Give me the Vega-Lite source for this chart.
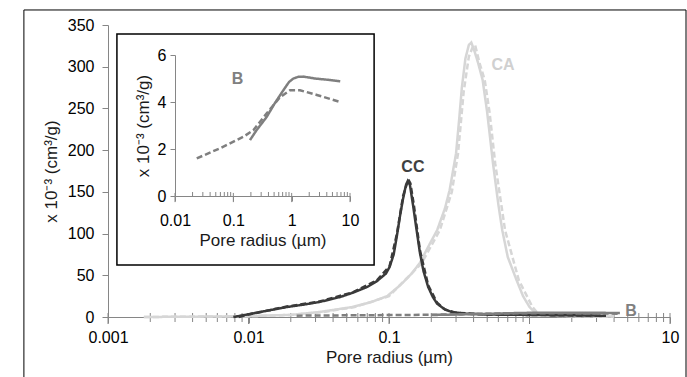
{
  "$schema": "https://vega.github.io/schema/vega-lite/v6.json",
  "width": 562,
  "height": 292,
  "autosize": "none",
  "padding": {"left": 108, "top": 25, "right": 17, "bottom": 60},
  "background": "white",
  "config": {
    "view": {"stroke": null},
    "font": "Liberation Sans",
    "axis": {
      "grid": false,
      "domainColor": "#868686",
      "tickColor": "#868686",
      "labelColor": "#000000",
      "titleColor": "#1a1a1a",
      "labelFontSize": 16,
      "titleFontSize": 17,
      "titleFontWeight": "normal",
      "labelFlush": false,
      "labelOverlap": false
    }
  },
  "datasets": {
    "mainTicks": [
      {"t": 0.001, "kind": "major"}, {"t": 0.002, "kind": "minor"}, {"t": 0.003, "kind": "minor"}, {"t": 0.004, "kind": "minor"}, {"t": 0.005, "kind": "minor"}, {"t": 0.006, "kind": "minor"}, {"t": 0.007, "kind": "minor"}, {"t": 0.008, "kind": "minor"}, {"t": 0.009, "kind": "minor"},
      {"t": 0.01, "kind": "major"}, {"t": 0.02, "kind": "minor"}, {"t": 0.03, "kind": "minor"}, {"t": 0.04, "kind": "minor"}, {"t": 0.05, "kind": "minor"}, {"t": 0.06, "kind": "minor"}, {"t": 0.07, "kind": "minor"}, {"t": 0.08, "kind": "minor"}, {"t": 0.09, "kind": "minor"},
      {"t": 0.1, "kind": "major"}, {"t": 0.2, "kind": "minor"}, {"t": 0.3, "kind": "minor"}, {"t": 0.4, "kind": "minor"}, {"t": 0.5, "kind": "minor"}, {"t": 0.6, "kind": "minor"}, {"t": 0.7, "kind": "minor"}, {"t": 0.8, "kind": "minor"}, {"t": 0.9, "kind": "minor"},
      {"t": 1, "kind": "major"}, {"t": 2, "kind": "minor"}, {"t": 3, "kind": "minor"}, {"t": 4, "kind": "minor"}, {"t": 5, "kind": "minor"}, {"t": 6, "kind": "minor"}, {"t": 7, "kind": "minor"}, {"t": 8, "kind": "minor"}, {"t": 9, "kind": "minor"},
      {"t": 10, "kind": "major"}
    ],
    "insetTicks": [
      {"t": 0.01, "kind": "major"}, {"t": 0.02, "kind": "minor"}, {"t": 0.03, "kind": "minor"}, {"t": 0.04, "kind": "minor"}, {"t": 0.05, "kind": "minor"}, {"t": 0.06, "kind": "minor"}, {"t": 0.07, "kind": "minor"}, {"t": 0.08, "kind": "minor"}, {"t": 0.09, "kind": "minor"},
      {"t": 0.1, "kind": "major"}, {"t": 0.2, "kind": "minor"}, {"t": 0.3, "kind": "minor"}, {"t": 0.4, "kind": "minor"}, {"t": 0.5, "kind": "minor"}, {"t": 0.6, "kind": "minor"}, {"t": 0.7, "kind": "minor"}, {"t": 0.8, "kind": "minor"}, {"t": 0.9, "kind": "minor"},
      {"t": 1, "kind": "major"}, {"t": 2, "kind": "minor"}, {"t": 3, "kind": "minor"}, {"t": 4, "kind": "minor"}, {"t": 5, "kind": "minor"}, {"t": 6, "kind": "minor"}, {"t": 7, "kind": "minor"}, {"t": 8, "kind": "minor"}, {"t": 9, "kind": "minor"},
      {"t": 10, "kind": "major"}
    ],
    "curves": [
      {"g": "CC", "style": "solid", "r": 0.0078, "v": 0},
      {"g": "CC", "style": "solid", "r": 0.0098, "v": 3},
      {"g": "CC", "style": "solid", "r": 0.013, "v": 7},
      {"g": "CC", "style": "solid", "r": 0.0188, "v": 12},
      {"g": "CC", "style": "solid", "r": 0.025, "v": 15},
      {"g": "CC", "style": "solid", "r": 0.032, "v": 18},
      {"g": "CC", "style": "solid", "r": 0.045, "v": 24},
      {"g": "CC", "style": "solid", "r": 0.055, "v": 29},
      {"g": "CC", "style": "solid", "r": 0.07, "v": 36},
      {"g": "CC", "style": "solid", "r": 0.082, "v": 43},
      {"g": "CC", "style": "solid", "r": 0.095, "v": 52},
      {"g": "CC", "style": "solid", "r": 0.101, "v": 60},
      {"g": "CC", "style": "solid", "r": 0.108, "v": 75},
      {"g": "CC", "style": "solid", "r": 0.114, "v": 98},
      {"g": "CC", "style": "solid", "r": 0.12, "v": 122},
      {"g": "CC", "style": "solid", "r": 0.126, "v": 142},
      {"g": "CC", "style": "solid", "r": 0.132, "v": 158},
      {"g": "CC", "style": "solid", "r": 0.136, "v": 163},
      {"g": "CC", "style": "solid", "r": 0.141, "v": 158},
      {"g": "CC", "style": "solid", "r": 0.148, "v": 135},
      {"g": "CC", "style": "solid", "r": 0.156, "v": 108},
      {"g": "CC", "style": "solid", "r": 0.166, "v": 77},
      {"g": "CC", "style": "solid", "r": 0.176, "v": 55},
      {"g": "CC", "style": "solid", "r": 0.19, "v": 36},
      {"g": "CC", "style": "solid", "r": 0.205, "v": 24},
      {"g": "CC", "style": "solid", "r": 0.22, "v": 16},
      {"g": "CC", "style": "solid", "r": 0.25, "v": 9},
      {"g": "CC", "style": "solid", "r": 0.28, "v": 6},
      {"g": "CC", "style": "solid", "r": 0.35, "v": 4},
      {"g": "CC", "style": "solid", "r": 0.5, "v": 3},
      {"g": "CC", "style": "solid", "r": 1, "v": 2.5},
      {"g": "CC", "style": "solid", "r": 2, "v": 2},
      {"g": "CC", "style": "solid", "r": 3.5, "v": 1.5},
      {"g": "CC", "style": "dashed", "r": 0.0085, "v": 0},
      {"g": "CC", "style": "dashed", "r": 0.01, "v": 3},
      {"g": "CC", "style": "dashed", "r": 0.0188, "v": 12.5},
      {"g": "CC", "style": "dashed", "r": 0.032, "v": 18.5},
      {"g": "CC", "style": "dashed", "r": 0.055, "v": 29.5},
      {"g": "CC", "style": "dashed", "r": 0.082, "v": 44},
      {"g": "CC", "style": "dashed", "r": 0.101, "v": 61},
      {"g": "CC", "style": "dashed", "r": 0.114, "v": 100},
      {"g": "CC", "style": "dashed", "r": 0.126, "v": 145},
      {"g": "CC", "style": "dashed", "r": 0.137, "v": 165},
      {"g": "CC", "style": "dashed", "r": 0.142, "v": 160},
      {"g": "CC", "style": "dashed", "r": 0.15, "v": 135},
      {"g": "CC", "style": "dashed", "r": 0.166, "v": 80},
      {"g": "CC", "style": "dashed", "r": 0.19, "v": 38},
      {"g": "CC", "style": "dashed", "r": 0.22, "v": 17},
      {"g": "CC", "style": "dashed", "r": 0.25, "v": 9},
      {"g": "CC", "style": "dashed", "r": 0.3, "v": 5},
      {"g": "CC", "style": "dashed", "r": 0.5, "v": 3},
      {"g": "CC", "style": "dashed", "r": 1, "v": 2.5},
      {"g": "CC", "style": "dashed", "r": 3.5, "v": 1.5},
      {"g": "CA", "style": "solid", "r": 0.0018, "v": 0},
      {"g": "CA", "style": "solid", "r": 0.005, "v": 0.5},
      {"g": "CA", "style": "solid", "r": 0.01, "v": 1},
      {"g": "CA", "style": "solid", "r": 0.02, "v": 2.5},
      {"g": "CA", "style": "solid", "r": 0.032, "v": 6},
      {"g": "CA", "style": "solid", "r": 0.055, "v": 12},
      {"g": "CA", "style": "solid", "r": 0.075, "v": 18},
      {"g": "CA", "style": "solid", "r": 0.097, "v": 25},
      {"g": "CA", "style": "solid", "r": 0.12, "v": 38},
      {"g": "CA", "style": "solid", "r": 0.145, "v": 52},
      {"g": "CA", "style": "solid", "r": 0.166, "v": 65},
      {"g": "CA", "style": "solid", "r": 0.19, "v": 84},
      {"g": "CA", "style": "solid", "r": 0.22, "v": 104},
      {"g": "CA", "style": "solid", "r": 0.25, "v": 130},
      {"g": "CA", "style": "solid", "r": 0.27, "v": 152},
      {"g": "CA", "style": "solid", "r": 0.3, "v": 196},
      {"g": "CA", "style": "solid", "r": 0.317, "v": 240},
      {"g": "CA", "style": "solid", "r": 0.33, "v": 275},
      {"g": "CA", "style": "solid", "r": 0.35, "v": 310},
      {"g": "CA", "style": "solid", "r": 0.37, "v": 326},
      {"g": "CA", "style": "solid", "r": 0.385, "v": 329},
      {"g": "CA", "style": "solid", "r": 0.4, "v": 322},
      {"g": "CA", "style": "solid", "r": 0.43, "v": 305},
      {"g": "CA", "style": "solid", "r": 0.464, "v": 284},
      {"g": "CA", "style": "solid", "r": 0.5, "v": 245},
      {"g": "CA", "style": "solid", "r": 0.55, "v": 184},
      {"g": "CA", "style": "solid", "r": 0.6, "v": 135},
      {"g": "CA", "style": "solid", "r": 0.64, "v": 104},
      {"g": "CA", "style": "solid", "r": 0.7, "v": 72},
      {"g": "CA", "style": "solid", "r": 0.81, "v": 44},
      {"g": "CA", "style": "solid", "r": 0.9, "v": 25},
      {"g": "CA", "style": "solid", "r": 1.0, "v": 12},
      {"g": "CA", "style": "solid", "r": 1.1, "v": 5},
      {"g": "CA", "style": "solid", "r": 1.3, "v": 2},
      {"g": "CA", "style": "solid", "r": 2, "v": 1},
      {"g": "CA", "style": "solid", "r": 4, "v": 0.5},
      {"g": "CA", "style": "dashed", "r": 0.0018, "v": 0},
      {"g": "CA", "style": "dashed", "r": 0.01, "v": 1},
      {"g": "CA", "style": "dashed", "r": 0.02, "v": 2.5},
      {"g": "CA", "style": "dashed", "r": 0.034, "v": 6},
      {"g": "CA", "style": "dashed", "r": 0.057, "v": 12},
      {"g": "CA", "style": "dashed", "r": 0.1, "v": 25},
      {"g": "CA", "style": "dashed", "r": 0.17, "v": 64},
      {"g": "CA", "style": "dashed", "r": 0.23, "v": 104},
      {"g": "CA", "style": "dashed", "r": 0.28, "v": 150},
      {"g": "CA", "style": "dashed", "r": 0.31, "v": 196},
      {"g": "CA", "style": "dashed", "r": 0.34, "v": 270},
      {"g": "CA", "style": "dashed", "r": 0.37, "v": 312},
      {"g": "CA", "style": "dashed", "r": 0.395, "v": 324},
      {"g": "CA", "style": "dashed", "r": 0.41, "v": 326},
      {"g": "CA", "style": "dashed", "r": 0.44, "v": 305},
      {"g": "CA", "style": "dashed", "r": 0.48, "v": 284},
      {"g": "CA", "style": "dashed", "r": 0.52, "v": 245},
      {"g": "CA", "style": "dashed", "r": 0.57, "v": 184},
      {"g": "CA", "style": "dashed", "r": 0.67, "v": 104},
      {"g": "CA", "style": "dashed", "r": 0.84, "v": 44},
      {"g": "CA", "style": "dashed", "r": 1.05, "v": 12},
      {"g": "CA", "style": "dashed", "r": 1.15, "v": 4},
      {"g": "CA", "style": "dashed", "r": 1.4, "v": 1.5},
      {"g": "CA", "style": "dashed", "r": 2, "v": 1},
      {"g": "CA", "style": "dashed", "r": 4, "v": 0.5},
      {"g": "B", "style": "dashed", "r": 0.022, "v": 1.6},
      {"g": "B", "style": "dashed", "r": 0.05, "v": 2.0},
      {"g": "B", "style": "dashed", "r": 0.1, "v": 2.3},
      {"g": "B", "style": "dashed", "r": 0.2, "v": 2.7},
      {"g": "B", "style": "dashed", "r": 0.4, "v": 3.6},
      {"g": "B", "style": "dashed", "r": 0.8, "v": 4.4},
      {"g": "B", "style": "dashed", "r": 1.3, "v": 4.5},
      {"g": "B", "style": "dashed", "r": 2.5, "v": 4.3},
      {"g": "B", "style": "dashed", "r": 4.4, "v": 4.0},
      {"g": "B", "style": "solid", "r": 0.2, "v": 2.4},
      {"g": "B", "style": "solid", "r": 0.4, "v": 3.4},
      {"g": "B", "style": "solid", "r": 0.7, "v": 4.5},
      {"g": "B", "style": "solid", "r": 1.0, "v": 5.0},
      {"g": "B", "style": "solid", "r": 1.5, "v": 5.1},
      {"g": "B", "style": "solid", "r": 4.4, "v": 4.9}
    ],
    "insetB": [
      {"style": "solid", "r": 0.193, "v": 2.38},
      {"style": "solid", "r": 0.25, "v": 2.8},
      {"style": "solid", "r": 0.374, "v": 3.37},
      {"style": "solid", "r": 0.5, "v": 3.9},
      {"style": "solid", "r": 0.72, "v": 4.5},
      {"style": "solid", "r": 0.9, "v": 4.85},
      {"style": "solid", "r": 1.07, "v": 5.0},
      {"style": "solid", "r": 1.3, "v": 5.07},
      {"style": "solid", "r": 1.59, "v": 5.08},
      {"style": "solid", "r": 2.5, "v": 5.0},
      {"style": "solid", "r": 4, "v": 4.95},
      {"style": "solid", "r": 6.8, "v": 4.88},
      {"style": "dashed", "r": 0.0236, "v": 1.6},
      {"style": "dashed", "r": 0.059, "v": 2.03},
      {"style": "dashed", "r": 0.149, "v": 2.52},
      {"style": "dashed", "r": 0.22, "v": 2.8},
      {"style": "dashed", "r": 0.374, "v": 3.52},
      {"style": "dashed", "r": 0.63, "v": 4.2},
      {"style": "dashed", "r": 0.94, "v": 4.5},
      {"style": "dashed", "r": 1.39, "v": 4.5},
      {"style": "dashed", "r": 2.7, "v": 4.3},
      {"style": "dashed", "r": 6.8, "v": 4.0}
    ],
    "mainLabels": [
      {"label": "CC", "r": 0.148, "v": 180},
      {"label": "CA", "r": 0.647, "v": 302},
      {"label": "B", "r": 5.27, "v": 7}
    ],
    "insetLabels": [
      {"label": "B", "r": 0.118, "v": 4.98}
    ]
  },
  "layer": [
    {
      "layer": [
        {
          "data": {"values": [{"frame": 1}]},
          "mark": {"type": "rect", "fill": null, "stroke": "#000000", "strokeWidth": 1},
          "encoding": {
            "x": {"datum": 0.000252, "type": "quantitative", "scale": {"type": "log", "domain": [0.001, 10], "nice": false}, "title": "Pore radius (µm)"},
            "x2": {"datum": 13.0},
            "y": {"datum": 368, "type": "quantitative", "scale": {"domain": [0, 350], "nice": false, "zero": false}, "title": "x 10⁻³ (cm³/g)"},
            "y2": {"datum": -110}
          }
        },
        {
          "data": {"name": "mainTicks"},
          "transform": [{"filter": {"field": "kind", "equal": "major"}}],
          "mark": {"type": "rule", "color": "#868686", "strokeWidth": 1},
          "encoding": {
            "x": {"field": "t", "type": "quantitative", "scale": {"type": "log", "domain": [0.001, 10], "nice": false}, "title": "Pore radius (µm)"},
            "y": {"datum": 4.8, "type": "quantitative", "scale": {"domain": [0, 350], "nice": false, "zero": false}, "title": "x 10⁻³ (cm³/g)"},
            "y2": {"datum": -8.4}
          }
        },
        {
          "data": {"name": "mainTicks"},
          "transform": [{"filter": {"field": "kind", "equal": "minor"}}],
          "mark": {"type": "rule", "color": "#868686", "strokeWidth": 1},
          "encoding": {
            "x": {"field": "t", "type": "quantitative", "scale": {"type": "log", "domain": [0.001, 10], "nice": false}, "title": "Pore radius (µm)"},
            "y": {"datum": 4.8, "type": "quantitative", "scale": {"domain": [0, 350], "nice": false, "zero": false}, "title": "x 10⁻³ (cm³/g)"},
            "y2": {"datum": -6.0}
          }
        },
        {
          "data": {"name": "curves"},
          "transform": [{"filter": {"field": "g", "equal": "CA"}}],
          "mark": {"type": "line", "color": "#d6d6d6", "strokeWidth": 2.5},
          "encoding": {
            "x": {
              "field": "r", "type": "quantitative",
              "scale": {"type": "log", "domain": [0.001, 10], "nice": false},
              "title": "Pore radius (µm)",
              "axis": {
                "values": [0.001, 0.01, 0.1, 1, 10],
                "format": "~g",
                "ticks": true,
                "tickSize": 6,
                "tickColor": "#868686",
                "labelPadding": 6,
                "titlePadding": 4
              }
            },
            "y": {
              "field": "v", "type": "quantitative",
              "scale": {"domain": [0, 350], "nice": false, "zero": false},
              "title": "x 10⁻³ (cm³/g)",
              "axis": {
                "values": [0, 50, 100, 150, 200, 250, 300, 350],
                "tickSize": 6,
                "labelPadding": 8,
                "titlePadding": 7
              }
            },
            "strokeDash": {"field": "style", "type": "nominal", "scale": {"domain": ["solid", "dashed"], "range": [[1, 0], [6, 3]]}, "legend": null}
          }
        },
        {
          "data": {"name": "curves"},
          "transform": [{"filter": {"field": "g", "equal": "CC"}}],
          "mark": {"type": "line", "color": "#3a3a3a", "strokeWidth": 2.5},
          "encoding": {
            "x": {"field": "r", "type": "quantitative", "scale": {"type": "log", "domain": [0.001, 10], "nice": false}, "title": "Pore radius (µm)"},
            "y": {"field": "v", "type": "quantitative", "scale": {"domain": [0, 350], "nice": false, "zero": false}, "title": "x 10⁻³ (cm³/g)"},
            "strokeDash": {"field": "style", "type": "nominal", "scale": {"domain": ["solid", "dashed"], "range": [[1, 0], [6, 3]]}, "legend": null}
          }
        },
        {
          "data": {"name": "curves"},
          "transform": [{"filter": {"field": "g", "equal": "B"}}],
          "mark": {"type": "line", "color": "#7f7f7f", "strokeWidth": 2.5},
          "encoding": {
            "x": {"field": "r", "type": "quantitative", "scale": {"type": "log", "domain": [0.001, 10], "nice": false}, "title": "Pore radius (µm)"},
            "y": {"field": "v", "type": "quantitative", "scale": {"domain": [0, 350], "nice": false, "zero": false}, "title": "x 10⁻³ (cm³/g)"},
            "strokeDash": {"field": "style", "type": "nominal", "scale": {"domain": ["solid", "dashed"], "range": [[1, 0], [6, 3]]}, "legend": null}
          }
        },
        {
          "data": {"name": "mainLabels"},
          "mark": {"type": "text", "fontSize": 16, "fontWeight": "bold", "align": "center", "baseline": "middle"},
          "encoding": {
            "x": {"field": "r", "type": "quantitative", "scale": {"type": "log", "domain": [0.001, 10], "nice": false}, "title": "Pore radius (µm)"},
            "y": {"field": "v", "type": "quantitative", "scale": {"domain": [0, 350], "nice": false, "zero": false}, "title": "x 10⁻³ (cm³/g)"},
            "text": {"field": "label"},
            "color": {"field": "label", "type": "nominal", "scale": {"domain": ["CC", "CA", "B"], "range": ["#404040", "#d0d0d0", "#808080"]}, "legend": null}
          }
        }
      ]
    },
    {
      "layer": [
        {
          "data": {"values": [{"frame": 1}]},
          "mark": {"type": "rect", "fill": "white", "stroke": "#000000", "strokeWidth": 1.5},
          "encoding": {
            "x": {"datum": 0.00101, "type": "quantitative", "scale": {"type": "log", "domain": [0.01, 10], "range": [67, 242], "nice": false}, "title": "Pore radius (µm)"},
            "x2": {"datum": 25.9},
            "y": {"datum": 6.894, "type": "quantitative", "scale": {"domain": [0, 6], "range": [171, 30], "nice": false, "zero": false}, "title": "x 10⁻³ (cm³/g)"},
            "y2": {"datum": -2.936}
          }
        },
        {
          "data": {"name": "insetTicks"},
          "transform": [{"filter": {"field": "kind", "equal": "major"}}],
          "mark": {"type": "rule", "color": "#868686", "strokeWidth": 1},
          "encoding": {
            "x": {"field": "t", "type": "quantitative", "scale": {"type": "log", "domain": [0.01, 10], "range": [67, 242], "nice": false}, "title": "Pore radius (µm)"},
            "y": {"datum": 0.13, "type": "quantitative", "scale": {"domain": [0, 6], "range": [171, 30], "nice": false, "zero": false}, "title": "x 10⁻³ (cm³/g)"},
            "y2": {"datum": -0.26}
          }
        },
        {
          "data": {"name": "insetTicks"},
          "transform": [{"filter": {"field": "kind", "equal": "minor"}}],
          "mark": {"type": "rule", "color": "#868686", "strokeWidth": 1},
          "encoding": {
            "x": {"field": "t", "type": "quantitative", "scale": {"type": "log", "domain": [0.01, 10], "range": [67, 242], "nice": false}, "title": "Pore radius (µm)"},
            "y": {"datum": 0.17, "type": "quantitative", "scale": {"domain": [0, 6], "range": [171, 30], "nice": false, "zero": false}, "title": "x 10⁻³ (cm³/g)"},
            "y2": {"datum": 0}
          }
        },
        {
          "data": {"name": "insetB"},
          "mark": {"type": "line", "color": "#7f7f7f", "strokeWidth": 2.5},
          "encoding": {
            "x": {
              "field": "r", "type": "quantitative",
              "scale": {"type": "log", "domain": [0.01, 10], "range": [67, 242], "nice": false},
              "title": "Pore radius (µm)",
              "axis": {
                "orient": "bottom",
                "offset": -121,
                "zindex": 1,
                "values": [0.01, 0.1, 1, 10],
                "format": "~g",
                "ticks": true,
                "tickSize": 5,
                "tickColor": "#868686",
                "labelPadding": 11,
                "titlePadding": 4
              }
            },
            "y": {
              "field": "v", "type": "quantitative",
              "scale": {"domain": [0, 6], "range": [171, 30], "nice": false, "zero": false},
              "title": "x 10⁻³ (cm³/g)",
              "axis": {
                "orient": "left",
                "offset": -67,
                "zindex": 1,
                "values": [0, 2, 4, 6],
                "tickSize": 5,
                "labelPadding": 4,
                "titlePadding": 5
              }
            },
            "strokeDash": {"field": "style", "type": "nominal", "scale": {"domain": ["solid", "dashed"], "range": [[1, 0], [6, 3]]}, "legend": null}
          }
        },
        {
          "data": {"name": "insetLabels"},
          "mark": {"type": "text", "fontSize": 16, "fontWeight": "bold", "align": "center", "baseline": "middle", "color": "#808080"},
          "encoding": {
            "x": {"field": "r", "type": "quantitative", "scale": {"type": "log", "domain": [0.01, 10], "range": [67, 242], "nice": false}, "title": "Pore radius (µm)"},
            "y": {"field": "v", "type": "quantitative", "scale": {"domain": [0, 6], "range": [171, 30], "nice": false, "zero": false}, "title": "x 10⁻³ (cm³/g)"},
            "text": {"field": "label"}
          }
        }
      ]
    }
  ],
  "resolve": {
    "scale": {"x": "independent", "y": "independent", "strokeDash": "shared"},
    "axis": {"x": "independent", "y": "independent"}
  }
}
